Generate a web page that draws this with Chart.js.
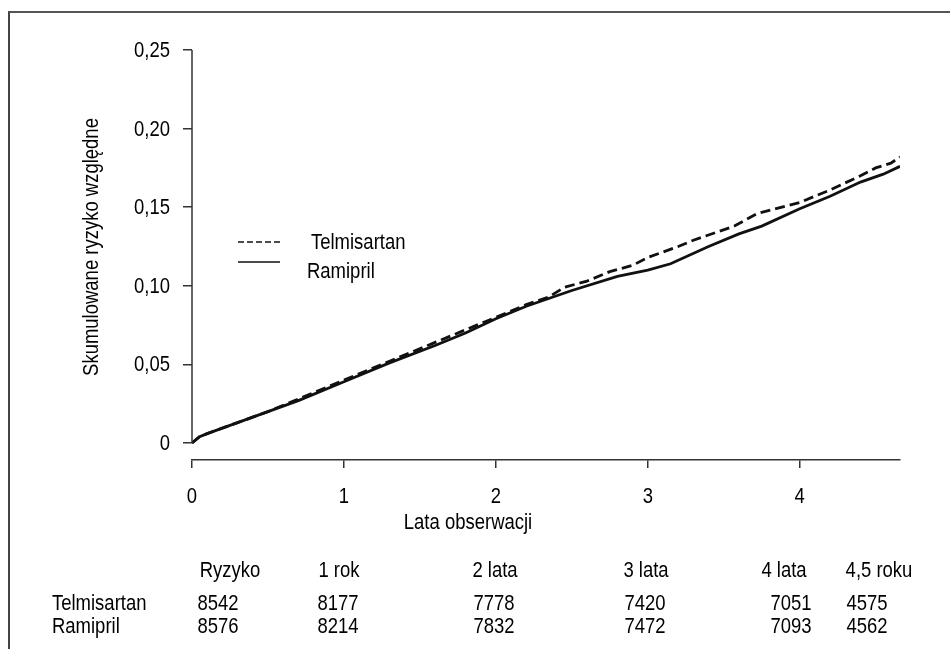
<!DOCTYPE html>
<html>
<head>
<meta charset="utf-8">
<script src="https://cdn.jsdelivr.net/npm/chart.js@4"></script>
<style>
  html, body { margin: 0; padding: 0; background: #fff; }
  #wrap { position: relative; width: 950px; height: 649px; overflow: hidden; }
  #frame { position: absolute; left: 8px; top: 11px; width: 960px; height: 700px;
           border-left: 2px solid #444; border-top: 2px solid #555; }
  canvas { position: absolute; left: 0; top: 0; }
</style>
</head>
<body>
<div id="wrap">
  <div id="frame"></div>
  <canvas id="km" width="950" height="649"></canvas>
</div>
<script>
// lata obserwacji / skumulowane ryzyko
const telmiYears = [0, 0.05, 0.1, 0.3, 0.5, 0.7, 1.0, 1.3, 1.6, 1.8, 2.0, 2.2, 2.35, 2.45, 2.6, 2.7, 2.75, 2.9, 3.0, 3.2, 3.3, 3.45, 3.57, 3.72, 3.8, 4.0, 4.2, 4.4, 4.5, 4.6, 4.66];
const telmiRisk  = [0, 0.004, 0.006, 0.013, 0.020, 0.028, 0.040, 0.052, 0.064, 0.072, 0.080, 0.088, 0.093, 0.099, 0.103, 0.107, 0.109, 0.113, 0.118, 0.125, 0.129, 0.134, 0.138, 0.146, 0.148, 0.153, 0.161, 0.170, 0.175, 0.178, 0.182];
const ramiYears  = [0, 0.05, 0.1, 0.3, 0.5, 0.7, 1.0, 1.3, 1.6, 1.8, 2.0, 2.2, 2.5, 2.8, 3.0, 3.15, 3.4, 3.6, 3.75, 4.0, 4.2, 4.4, 4.55, 4.66];
const ramiRisk   = [0, 0.004, 0.006, 0.013, 0.020, 0.027, 0.039, 0.051, 0.062, 0.070, 0.079, 0.087, 0.097, 0.106, 0.110, 0.114, 0.125, 0.133, 0.138, 0.149, 0.157, 0.166, 0.171, 0.176];

const xTicks = [0, 1, 2, 3, 4];
const yTicks = [0, 0.05, 0.10, 0.15, 0.20, 0.25];

// liczba pacjentow w grupie ryzyka
const riskHeaders = ["Ryzyko", "1 rok", "2 lata", "3 lata", "4 lata", "4,5 roku"];
const telmiAtRisk = [8542, 8177, 7778, 7420, 7051, 4575];
const ramiAtRisk  = [8576, 8214, 7832, 7472, 7093, 4562];

const FONT = '22px "Liberation Sans", Arial, sans-serif';
const NARROW = 0.84; // udawany krój "condensed"

function yLabel(v) {
  return v === 0 ? '0' : v.toFixed(2).replace('.', ',');
}

function toPoints(xs, ys) {
  return xs.map((x, i) => ({ x: x, y: ys[i] }));
}

// tekst zwężony w poziomie
function narrowText(ctx, text, x, y, align) {
  ctx.save();
  ctx.translate(x, y);
  ctx.scale(NARROW, 1);
  ctx.textAlign = align;
  ctx.fillText(text, 0, 0);
  ctx.restore();
}

const extras = {
  id: 'extras',
  afterDraw(chart) {
    const ctx = chart.ctx;
    const x = chart.scales.x;
    const y = chart.scales.y;
    ctx.save();
    // os Y tylko od 0 do 0,25
    ctx.strokeStyle = '#333';
    ctx.lineWidth = 1.5;
    ctx.beginPath();
    ctx.moveTo(x.left, y.getPixelForValue(0.25));
    ctx.lineTo(x.left, y.getPixelForValue(0));
    ctx.stroke();

    ctx.fillStyle = '#000';
    ctx.font = FONT;
    ctx.textBaseline = 'middle';

    // etykiety osi
    yTicks.forEach(v => narrowText(ctx, yLabel(v), 170, y.getPixelForValue(v) + 1, 'right'));
    xTicks.forEach(v => narrowText(ctx, String(v), x.getPixelForValue(v), 497, 'center'));

    // legenda
    ctx.strokeStyle = '#111';
    ctx.lineWidth = 1.5;
    ctx.setLineDash([6, 3]);
    ctx.beginPath(); ctx.moveTo(238, 242); ctx.lineTo(280, 242); ctx.stroke();
    ctx.setLineDash([]);
    ctx.beginPath(); ctx.moveTo(238, 262); ctx.lineTo(280, 262); ctx.stroke();
    narrowText(ctx, 'Telmisartan', 311, 243, 'left');
    narrowText(ctx, 'Ramipril', 307, 272, 'left');

    // tytuly osi
    narrowText(ctx, 'Lata obserwacji', 468, 523, 'center');
    ctx.save();
    ctx.translate(92, 247);
    ctx.rotate(-Math.PI / 2);
    narrowText(ctx, 'Skumulowane ryzyko względne', 0, 0, 'center');
    ctx.restore();

    // tabela pacjentow w grupie ryzyka
    const colX = [230, 339, 495, 646, 784, 879];
    const numX = [218, 338, 494, 645, 791, 867];
    riskHeaders.forEach((h, i) => narrowText(ctx, h, colX[i], 571, 'center'));
    telmiAtRisk.forEach((n, i) => narrowText(ctx, String(n), numX[i], 604, 'center'));
    ramiAtRisk.forEach((n, i) => narrowText(ctx, String(n), numX[i], 627, 'center'));
    narrowText(ctx, 'Telmisartan', 52, 604, 'left');
    narrowText(ctx, 'Ramipril', 52, 627, 'left');
    ctx.restore();
  }
};

new Chart(document.getElementById('km'), {
  type: 'line',
  data: {
    datasets: [
      {
        label: 'Telmisartan',
        data: toPoints(telmiYears, telmiRisk),
        borderColor: '#111',
        borderWidth: 2.8,
        borderDash: [10, 5],
        pointRadius: 0,
        tension: 0
      },
      {
        label: 'Ramipril',
        data: toPoints(ramiYears, ramiRisk),
        borderColor: '#111',
        borderWidth: 2.8,
        pointRadius: 0,
        tension: 0
      }
    ]
  },
  options: {
    responsive: false,
    animation: false,
    layout: { padding: { top: 50, right: 50, left: 0, bottom: 0 } },
    plugins: { legend: { display: false }, tooltip: { enabled: false } },
    scales: {
      x: {
        type: 'linear',
        min: 0,
        max: 4.66,
        afterBuildTicks: s => { s.ticks = xTicks.map(v => ({ value: v })); },
        afterFit: s => { s.height = 189; },
        grid: { drawOnChartArea: false, tickLength: 8, color: '#333', lineWidth: 1.5 },
        border: { display: true, color: '#333', width: 1.5 },
        ticks: { display: false }
      },
      y: {
        type: 'linear',
        min: -0.0108,
        max: 0.25,
        afterBuildTicks: s => { s.ticks = yTicks.map(v => ({ value: v })); },
        afterFit: s => { s.width = 192; },
        grid: { drawOnChartArea: false, tickLength: 9, color: '#333', lineWidth: 1.5 },
        border: { display: false },
        ticks: { display: false }
      }
    }
  },
  plugins: [extras]
});
</script>
</body>
</html>
